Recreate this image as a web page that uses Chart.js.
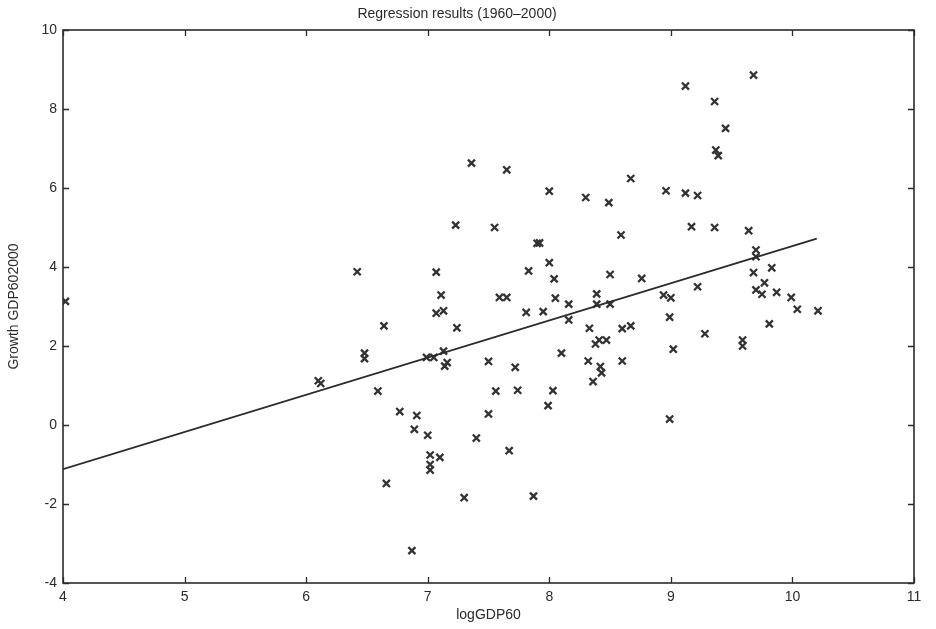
<!DOCTYPE html>
<html>
<head>
<meta charset="utf-8">
<script src="https://cdn.jsdelivr.net/npm/chart.js@4.4.1/dist/chart.umd.min.js"></script>
<style>
  html, body { margin: 0; padding: 0; background: #fff; }
  #wrap { width: 936px; height: 629px; }
</style>
</head>
<body>
<div id="wrap"><canvas id="chart" width="936" height="629"></canvas></div>
<script>
const logGdp60 = [
  4.02, 6.10, 6.12, 6.42, 6.48, 6.48, 6.59, 6.64, 6.66, 6.77,
  6.87, 6.89, 6.91, 6.99, 7.00, 7.02, 7.02, 7.02, 7.05, 7.07,
  7.07, 7.10, 7.11, 7.13, 7.13, 7.14, 7.16, 7.23, 7.24, 7.30,
  7.36, 7.40, 7.50, 7.50, 7.55, 7.56, 7.59, 7.65, 7.65, 7.67,
  7.72, 7.74, 7.81, 7.83, 7.87, 7.90, 7.92, 7.95, 7.99, 8.00,
  8.00, 8.03, 8.04, 8.05, 8.10, 8.16, 8.16, 8.30, 8.32, 8.33,
  8.36, 8.38, 8.39, 8.39, 8.41, 8.42, 8.43, 8.47, 8.49, 8.50,
  8.50, 8.59, 8.60, 8.60, 8.67, 8.67, 8.76, 8.94, 8.96, 8.99,
  8.99, 9.00, 9.02, 9.12, 9.12, 9.17, 9.22, 9.22, 9.28, 9.36,
  9.36, 9.37, 9.39, 9.45, 9.59, 9.59, 9.64, 9.68, 9.68, 9.70,
  9.70, 9.70, 9.75, 9.77, 9.81, 9.83, 9.87, 9.99, 10.04, 10.21,
];
const growth = [
  3.13, 1.12, 1.05, 3.88, 1.82, 1.68, 0.86, 2.51, -1.48, 0.34,
  -3.18, -0.11, 0.24, 1.71, -0.26, -0.76, -1.00, -1.14, 1.71, 3.87,
  2.83, -0.82, 3.29, 2.89, 1.87, 1.49, 1.58, 5.06, 2.46, -1.84,
  6.63, -0.33, 1.61, 0.28, 5.00, 0.86, 3.23, 3.23, 6.46, -0.65,
  1.46, 0.88, 2.85, 3.90, -1.80, 4.60, 4.61, 2.87, 0.49, 5.92,
  4.11, 0.87, 3.70, 3.21, 1.82, 3.06, 2.66, 5.76, 1.62, 2.45,
  1.10, 2.05, 3.32, 3.06, 2.15, 1.48, 1.32, 2.15, 5.63, 3.81,
  3.06, 4.81, 2.44, 1.62, 2.51, 6.24, 3.71, 3.29, 5.93, 2.73,
  0.15, 3.22, 1.92, 8.58, 5.87, 5.02, 5.81, 3.50, 2.31, 8.19,
  5.00, 6.96, 6.82, 7.51, 2.15, 2.00, 4.92, 8.86, 3.86, 4.43,
  4.26, 3.42, 3.31, 3.60, 2.56, 3.98, 3.36, 3.23, 2.93, 2.89,
];
// fitted line, end points
const fitX = [4, 10.2];
const fitY = [-1.12, 4.72];

const xTicks = [4, 5, 6, 7, 8, 9, 10, 11];
const yTicks = [-4, -2, 0, 2, 4, 6, 8, 10];

const INK = '#2b2b2b';
const FONT = { family: 'Arial, "Liberation Sans", Helvetica, sans-serif', size: 14 };

// MATLAB-style box with inward ticks on all four sides
const boxTicks = {
  id: 'boxTicks',
  afterDraw(chart) {
    const { ctx, chartArea: a, scales } = chart;
    const len = 6;
    ctx.save();
    ctx.strokeStyle = INK;
    ctx.lineWidth = 1.3;
    ctx.beginPath();
    xTicks.forEach((v) => {
      const px = Math.round(scales.x.getPixelForValue(v)) + 0.5;
      ctx.moveTo(px, a.bottom); ctx.lineTo(px, a.bottom - len);
      ctx.moveTo(px, a.top); ctx.lineTo(px, a.top + len);
    });
    yTicks.forEach((v) => {
      const py = Math.round(scales.y.getPixelForValue(v)) + 0.5;
      ctx.moveTo(a.left, py); ctx.lineTo(a.left + len, py);
      ctx.moveTo(a.right, py); ctx.lineTo(a.right - len, py);
    });
    ctx.stroke();
    ctx.lineWidth = 1.6;
    ctx.strokeRect(a.left, a.top, a.right - a.left, a.bottom - a.top);
    ctx.restore();
  },
};

new Chart(document.getElementById('chart').getContext('2d'), {
  data: {
    datasets: [
      {
        type: 'scatter',
        data: logGdp60.map((x, i) => ({ x, y: growth[i] })),
        pointStyle: 'crossRot',
        pointRadius: 5,
        borderWidth: 2.3,
        borderColor: '#333',
        backgroundColor: '#333',
        order: 2,
      },
      {
        type: 'line',
        data: fitX.map((x, i) => ({ x, y: fitY[i] })),
        borderColor: INK,
        borderWidth: 1.8,
        pointRadius: 0,
        fill: false,
        order: 1,
      },
    ],
  },
  options: {
    responsive: false,
    animation: false,
    layout: { padding: { right: 22 } },
    plugins: {
      legend: { display: false },
      tooltip: { enabled: false },
      title: {
        display: true,
        text: 'Regression results (1960\u20132000)',
        color: INK,
        font: { ...FONT, weight: 'normal' },
        padding: { top: 6, bottom: 7.2 },
      },
    },
    scales: {
      x: {
        type: 'linear',
        position: 'bottom',
        min: 4,
        max: 11,
        afterFit: (scale) => { scale.height = 46; },
        afterBuildTicks: (scale) => { scale.ticks = xTicks.map((value) => ({ value })); },
        grid: { display: false, drawTicks: false },
        border: { display: false },
        ticks: { color: INK, font: FONT, padding: 6, maxRotation: 0 },
        title: { display: true, text: 'logGDP60', color: INK, font: FONT, padding: { top: 0, bottom: 5 } },
      },
      y: {
        type: 'linear',
        position: 'left',
        min: -4,
        max: 10,
        afterFit: (scale) => { scale.width = 63; },
        afterBuildTicks: (scale) => { scale.ticks = yTicks.map((value) => ({ value })); },
        grid: { display: false, drawTicks: false },
        border: { display: false },
        ticks: { color: INK, font: FONT, padding: 6 },
        title: { display: true, text: 'Growth GDP602000', color: INK, font: FONT, padding: { top: 6, bottom: 0 } },
      },
    },
  },
  plugins: [boxTicks],
});
</script>
</body>
</html>
